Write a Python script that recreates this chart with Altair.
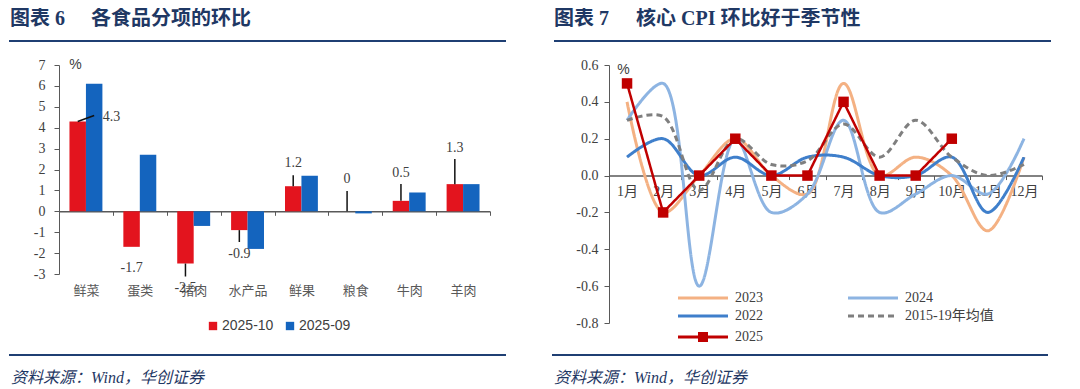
import altair as alt
import pandas as pd

# ---------------- data: left panel (各食品分项的环比) ----------------
categories = ["鲜菜", "蛋类", "猪肉", "水产品", "鲜果", "粮食", "牛肉", "羊肉"]
bar_series = ["2025-10", "2025-09"]
oct_values = [4.3, -1.7, -2.5, -0.9, 1.2, 0.0, 0.5, 1.3]
sep_values = [6.1, 2.7, -0.7, -1.8, 1.7, -0.1, 0.9, 1.3]
oct_labels = ["4.3", "-1.7", "-2.5", "-0.9", "1.2", "0", "0.5", "1.3"]
# annotation anchors (data units) for the 2025-10 value labels and leader lines
label_y = [4.5, -2.7, -3.65, -2.05, 2.3, 1.55, 1.85, 3.05]
leader_end = [None, None, -3.12, -1.47, 1.72, 0.97, 1.31, 2.5]
first_leader_end = 4.58

# ---------------- data: right panel (核心CPI环比) ----------------
months = ["1月", "2月", "3月", "4月", "5月", "6月", "7月", "8月", "9月", "10月", "11月", "12月"]
line_series = ["2023", "2024", "2022", "2015-19年均值", "2025"]
v2023 = [0.4, -0.2, 0.0, 0.2, 0.0, -0.1, 0.5, 0.0, 0.1, 0.0, -0.3, 0.1]
v2024 = [0.3, 0.5, -0.6, 0.2, -0.2, -0.1, 0.3, -0.2, -0.1, 0.0, -0.1, 0.2]
v2022 = [0.1, 0.2, 0.0, 0.1, 0.0, 0.1, 0.1, 0.0, 0.0, 0.1, -0.2, 0.1]
vavg = [0.3, 0.32, -0.08, 0.2, 0.06, 0.08, 0.28, 0.1, 0.3, 0.1, 0.0, 0.06]
v2025 = [0.5, -0.2, 0.0, 0.2, 0.0, 0.0, 0.4, 0.0, 0.0, 0.2]

# ---------------- styles ----------------
RED, BLUE = "#E3141E", "#1464BE"
AX, TXT, NAVY = "#595959", "#404040", "#1F3864"
SERIF = "Liberation Serif, Noto Sans CJK SC"
CJK = "Noto Sans CJK SC"
line_colors = ["#F4B183", "#8DB4E2", "#3F7FCB", "#7F7F7F", "#C00000"]
line_dashes = [[1, 0], [1, 0], [1, 0], [6, 4], [1, 0]]
HYPHEN_EXPR = "replace(datum.label, '\u2212', '-')"


def deco_text(txt, x, y, size, weight="bold", style="normal", font=SERIF):
    return alt.Chart(pd.DataFrame({"t": [txt]})).mark_text(
        align="left", baseline="middle", font=font, fontSize=size,
        fontWeight=weight, fontStyle=style, color=NAVY
    ).encode(x=alt.value(x), y=alt.value(y), text="t:N")


def deco_rule(x1, x2, y):
    return alt.Chart(pd.DataFrame({"t": [0]})).mark_rule(
        color="#1F3F73", strokeWidth=2
    ).encode(x=alt.value(x1), x2=alt.value(x2), y=alt.value(y))


# ================= left panel =================
bars_df = pd.DataFrame({
    "cat": categories * 2,
    "series": [bar_series[0]] * len(categories) + [bar_series[1]] * len(categories),
    "value": oct_values + sep_values,
})
lab_df = pd.DataFrame({"cat": categories, "series": bar_series[0],
                       "ly": label_y, "txt": oct_labels})
lead_rows = [(c, v, e) for c, v, e in zip(categories, oct_values, leader_end) if e is not None]
lead_df = pd.DataFrame({"cat": [r[0] for r in lead_rows], "series": bar_series[0],
                        "y1": [r[1] for r in lead_rows], "y2": [r[2] for r in lead_rows]})
diag_df = pd.DataFrame({"cat": [categories[0]] * 2, "series": bar_series,
                        "y": [oct_values[0], first_leader_end]})

xl_scale = alt.Scale(domain=categories, paddingInner=0, paddingOuter=0)
xo_scale = alt.Scale(domain=bar_series, paddingOuter=0.636, paddingInner=0)
yl_scale = alt.Scale(domain=[-3, 7], nice=False, zero=False)

x_left_axis = alt.Axis(title=None, labelAngle=0, offset=-62.7, tickBand="extent",
                       tickSize=4, tickColor=AX, domainColor=AX, domainWidth=1.5,
                       labelPadding=69, labelFont=CJK, labelFontSize=13,
                       labelColor="#595959", grid=False)
y_left_axis = alt.Axis(values=list(range(-3, 8)), format="d", labelExpr=HYPHEN_EXPR,
                       tickSize=5, tickColor=AX,
                       domainColor=AX, labelPadding=9, labelFont=SERIF, labelFontSize=14,
                       labelColor=TXT, grid=False, title="%", titleAngle=0, titleX=16,
                       titleY=-1, titleAlign="center", titleBaseline="middle",
                       titleFont="Liberation Sans", titleFontSize=14,
                       titleFontWeight="normal", titleColor=TXT)

XL = alt.X("cat:N", scale=xl_scale, axis=x_left_axis)
XO = alt.XOffset("series:N", scale=xo_scale)

bars = alt.Chart(bars_df).mark_bar().encode(
    x=XL, xOffset=XO,
    y=alt.Y("value:Q", scale=yl_scale, axis=y_left_axis),
    color=alt.Color("series:N", scale=alt.Scale(domain=bar_series, range=[RED, BLUE]),
                    legend=alt.Legend(title=None, orient="none", legendX=147, legendY=254,
                                      direction="horizontal", symbolType="square",
                                      symbolSize=70, symbolStrokeWidth=0,
                                      labelFont="Liberation Sans", labelFontSize=14,
                                      labelColor=TXT, labelOffset=2, columnPadding=9,
                                      padding=0)),
)

leaders = alt.Chart(lead_df).mark_rule(color="#111111", strokeWidth=1.5).encode(
    x=XL, xOffset=XO,
    y=alt.Y("y1:Q", scale=yl_scale, axis=y_left_axis),
    y2="y2:Q",
)
diag = alt.Chart(diag_df).mark_line(color="#111111", strokeWidth=1.5).encode(
    x=XL, xOffset=XO,
    y=alt.Y("y:Q", scale=yl_scale, axis=y_left_axis),
)
labels = alt.Chart(lab_df).transform_filter(
    alt.datum.cat != categories[0]
).mark_text(font=SERIF, fontSize=14, color=TXT).encode(
    x=XL, xOffset=XO,
    y=alt.Y("ly:Q", scale=yl_scale, axis=y_left_axis),
    text="txt:N",
)
label_first = alt.Chart(lab_df).transform_filter(
    alt.datum.cat == categories[0]
).mark_text(font=SERIF, fontSize=14, color=TXT, align="left", dx=25).encode(
    x=XL, xOffset=XO,
    y=alt.Y("ly:Q", scale=yl_scale, axis=y_left_axis),
    text="txt:N",
)

left = alt.layer(
    bars, leaders, diag, labels, label_first,
    deco_text("图表 6", -49, -46.5, 20),
    deco_text("各食品分项的环比", 32, -46.5, 20),
    deco_rule(-50, 447, -24),
    deco_rule(-50, 447, 290),
    deco_text("资料来源：Wind，华创证券", -48, 313, 16, weight="normal", style="italic"),
).properties(width=431, height=209)

# ================= right panel =================
rows = []
for name, vals in zip(line_series, [v2023, v2024, v2022, vavg, v2025]):
    for m, v in zip(months, vals):
        rows.append({"month": m, "series": name, "value": v})
line_df = pd.DataFrame(rows)

xr_scale = alt.Scale(domain=months, paddingInner=0, paddingOuter=0)
yr_scale = alt.Scale(domain=[-0.8, 0.6], nice=False, zero=False)
x_right_axis = alt.Axis(title=None, labelAngle=0, offset=-147.43, tickBand="extent",
                        tickSize=4, tickColor=AX, domainColor=AX, domainWidth=1.5,
                        labelPadding=5, labelFont=SERIF, labelFontSize=14,
                        labelColor=TXT, grid=False)
y_right_axis = alt.Axis(values=[-0.8, -0.6, -0.4, -0.2, 0, 0.2, 0.4, 0.6], format=".1f",
                        labelExpr=HYPHEN_EXPR,
                        tickSize=5, tickColor=AX, domainColor=AX, labelPadding=6,
                        labelFont=SERIF, labelFontSize=14, labelColor=TXT, grid=False,
                        title="%", titleAngle=0, titleX=14, titleY=4, titleAlign="center",
                        titleBaseline="middle", titleFont="Liberation Sans",
                        titleFontSize=14, titleFontWeight="normal", titleColor=TXT)
XR = alt.X("month:N", scale=xr_scale, axis=x_right_axis)
YR = alt.Y("value:Q", scale=yr_scale, axis=y_right_axis)

LINE_PATH = "M-5,0H5"
MARK_PATH = "M-5,0H5M-1,-0.7H1M-1,-0.35H1M-1,0H1M-1,0.35H1M-1,0.7H1"
right_legend = alt.Legend(
    title=None, orient="none", legendX=87, legendY=226, columns=2,
    direction="horizontal",
    symbolType=alt.ExprRef(expr=f"datum.value === '2025' ? '{MARK_PATH}' : '{LINE_PATH}'"),
    symbolSize=100,
    symbolStrokeWidth=3, labelOffset=25, columnPadding=79, rowPadding=4,
    labelFont=SERIF, labelFontSize=14, labelColor=TXT, padding=0,
)
color_r = alt.Color("series:N", scale=alt.Scale(domain=line_series, range=line_colors),
                    legend=right_legend)
dash_r = alt.StrokeDash("series:N", scale=alt.Scale(domain=line_series, range=line_dashes),
                        legend=right_legend)

line_layers = []
for name in line_series[:4]:
    line_layers.append(
        alt.Chart(line_df).transform_filter(alt.datum.series == name)
        .mark_line(interpolate="catmull-rom", strokeWidth=3)
        .encode(x=XR, y=YR, color=color_r, strokeDash=dash_r)
    )
line_2025 = alt.Chart(line_df).transform_filter(alt.datum.series == "2025").mark_line(
    strokeWidth=2.5).encode(x=XR, y=YR, color=color_r, strokeDash=dash_r)
pts_2025 = alt.Chart(line_df).transform_filter(alt.datum.series == "2025").mark_point(
    shape="square", filled=True, size=110, opacity=1, color="#C00000").encode(x=XR, y=YR)

right = alt.layer(
    *line_layers, line_2025, pts_2025,
    deco_text("图表 7", -55, -46.5, 20),
    deco_text("核心 CPI 环比好于季节性", 27, -46.5, 20),
    deco_rule(-55, 442, -24),
    deco_rule(-57, 439, 290),
    deco_text("资料来源：Wind，华创证券", -55, 313, 16, weight="normal", style="italic"),
).properties(width=433, height=258)

chart = alt.hconcat(left, right, spacing=119, bounds="flush").resolve_scale(
    color="independent", strokeDash="independent", xOffset="independent"
).resolve_legend(color="independent", strokeDash="independent").properties(
    padding={"left": 0, "top": 0, "right": 0, "bottom": 0}
).configure_view(stroke=None)

chart.save("out.html", embed_options={"renderer": "svg", "actions": False})
